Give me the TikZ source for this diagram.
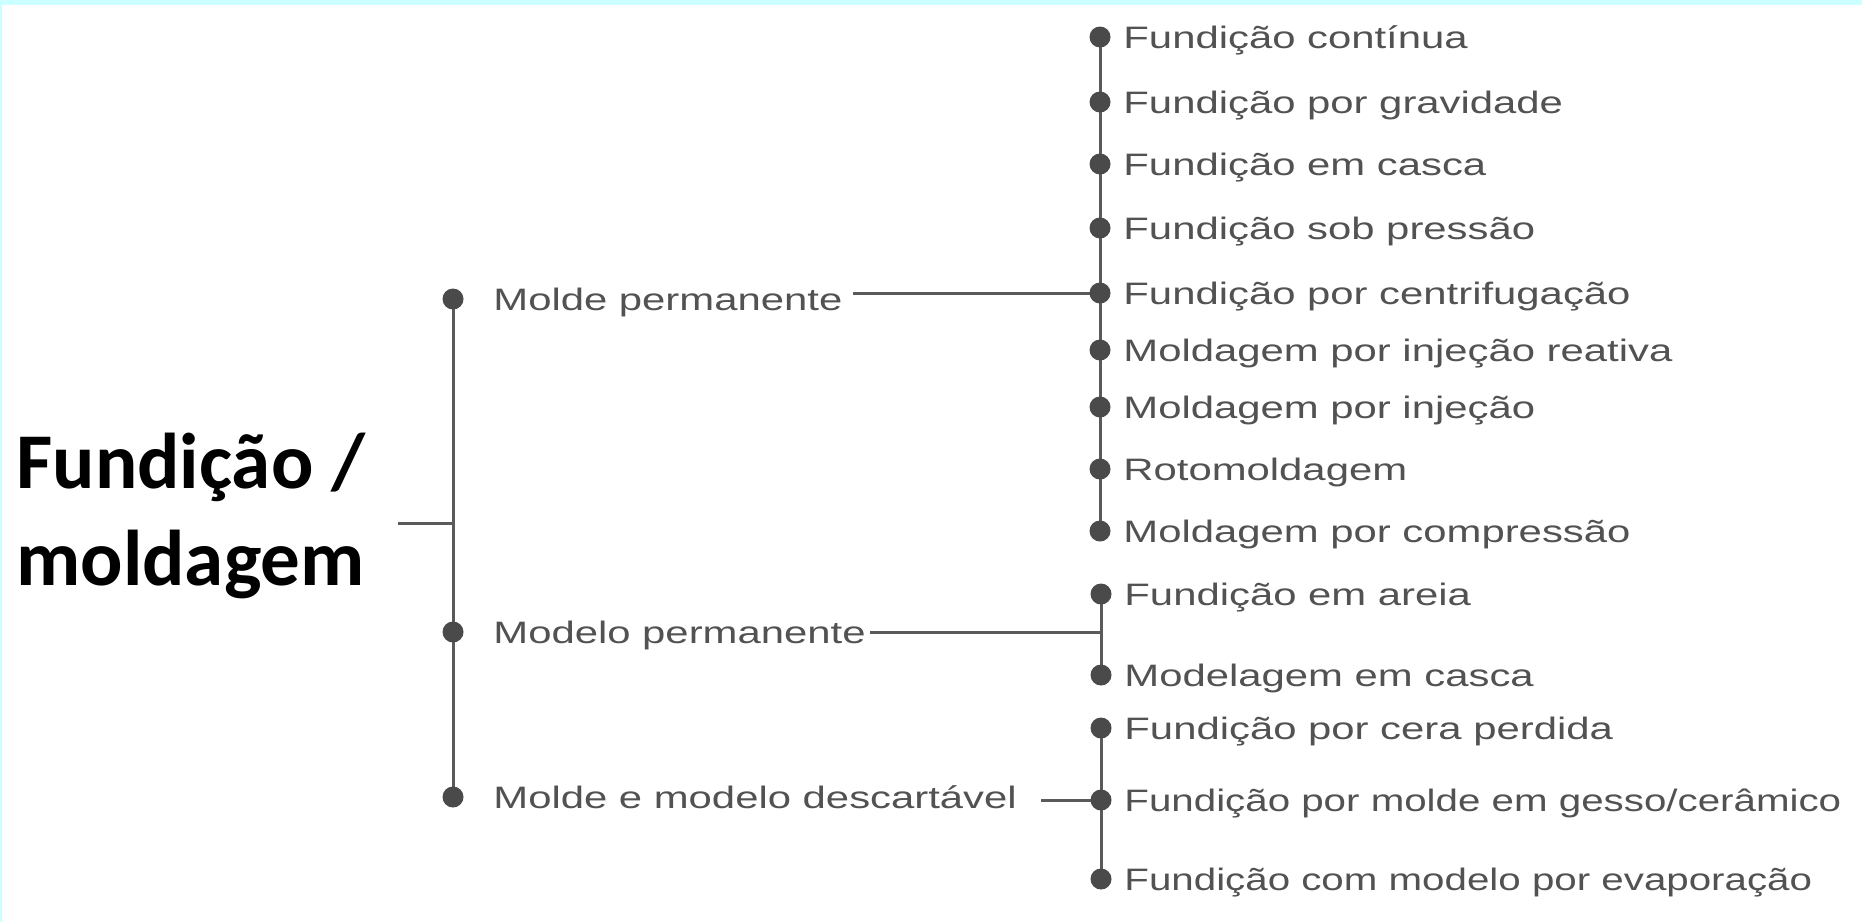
\documentclass[tikz,border=0pt]{standalone}
\usepackage{fontspec}
\usetikzlibrary{calc}
\newfontfamily\dgfont[FakeStretch=1.35]{Liberation Sans}
\newfontfamily\dgnarrow[FakeStretch=1.30]{Liberation Sans}
\newfontfamily\titlefont{Carlito}
\definecolor{txtgray}{HTML}{525252}
\definecolor{dotgray}{HTML}{4A4A4A}
\definecolor{linegray}{HTML}{5A5A5A}
\definecolor{cyanband}{HTML}{CCFFFF}
\begin{document}
\begin{tikzpicture}[x=0.5pt,y=-0.5pt,
  dotnode/.style={circle, fill=dotgray, inner sep=0pt, minimum size=10.5pt},
  lbl/.style={anchor=base west, inner sep=0pt, text=txtgray, font=\dgfont\fontsize{15.5pt}{18pt}\selectfont},
  lblnarrow/.style={lbl, font=\dgnarrow\fontsize{15.5pt}{18pt}\selectfont},
  conn/.style={draw=linegray, line width=1.5pt},
  titletext/.style={anchor=base west, inner sep=0pt, text=black, font=\titlefont\bfseries\fontsize{39.5pt}{48.5pt}\selectfont}
]
\useasboundingbox (0,0) rectangle (1862,922);
\fill[white] (0,0) rectangle (1862,922);
\fill[cyanband] (0,0) rectangle (1862,5);
\fill[cyanband] (0,0) rectangle (2,922);

% title
\node[titletext] (title) at (16,488) {\begin{tabular}[t]{@{}l@{}}Fundição /\\moldagem\end{tabular}};
\coordinate (stub) at (398,523);

% left level dots
\coordinate (L1) at (453,299);
\coordinate (L2) at (453,632);
\coordinate (L3) at (453,797);

% right level dots
\coordinate (r1) at (1100,37);
\coordinate (r2) at (1100,102);
\coordinate (r3) at (1100,164);
\coordinate (r4) at (1100,228);
\coordinate (r5) at (1100,293);
\coordinate (r6) at (1100,350);
\coordinate (r7) at (1100,407);
\coordinate (r8) at (1100,469);
\coordinate (r9) at (1100,531);
\coordinate (r10) at (1101,594);
\coordinate (r11) at (1101,675);
\coordinate (r12) at (1101,728);
\coordinate (r13) at (1101,800);
\coordinate (r14) at (1101,879);

% left labels
\node[lbl] (m1) at (493,310) {Molde permanente};
\node[lbl] (m2) at (493,643) {Modelo permanente};
\node[lbl] (m3) at (493,808) {Molde e modelo descartável};

% right labels
\node[lbl] (t1) at (1123,48) {Fundição contínua};
\node[lbl] (t2) at (1123,113) {Fundição por gravidade};
\node[lbl] (t3) at (1123,175) {Fundição em casca};
\node[lbl] (t4) at (1123,239) {Fundição sob pressão};
\node[lbl] (t5) at (1123,304) {Fundição por centrifugação};
\node[lbl] (t6) at (1123,361) {Moldagem por injeção reativa};
\node[lbl] (t7) at (1123,418) {Moldagem por injeção};
\node[lbl] (t8) at (1123,480) {Rotomoldagem};
\node[lbl] (t9) at (1123,542) {Moldagem por compressão};
\node[lbl] (t10) at (1124,605) {Fundição em areia};
\node[lbl] (t11) at (1124,686) {Modelagem em casca};
\node[lbl] (t12) at (1124,739) {Fundição por cera perdida};
\node[lblnarrow] (t13) at (1124,811) {Fundição por molde em gesso/cerâmico};
\node[lblnarrow] (t14) at (1124,890) {Fundição com modelo por evaporação};

% connectors
\draw[conn] (L1) -- (L3);
\draw[conn] (stub) -- (stub -| L1);
\draw[conn] (r1) -- (r9);
\draw[conn] (r10) -- (r11);
\draw[conn] (r12) -- (r14);
\coordinate (m1e) at ($(m1.east)+(10,0)$);
\coordinate (m2e) at ($(m2.east)+(4,0)$);
\coordinate (m3e) at ($(m3.east)+(24,0)$);
\draw[conn] (m1e |- r5) -- (r5);
\draw[conn] (m2e |- L2) -- (r10 |- L2);
\draw[conn] (m3e |- r13) -- (r13);

% dots
\foreach \p in {L1,L2,L3,r1,r2,r3,r4,r5,r6,r7,r8,r9,r10,r11,r12,r13,r14}
  \node[dotnode] (d\p) at (\p) {};
\end{tikzpicture}
\end{document}
